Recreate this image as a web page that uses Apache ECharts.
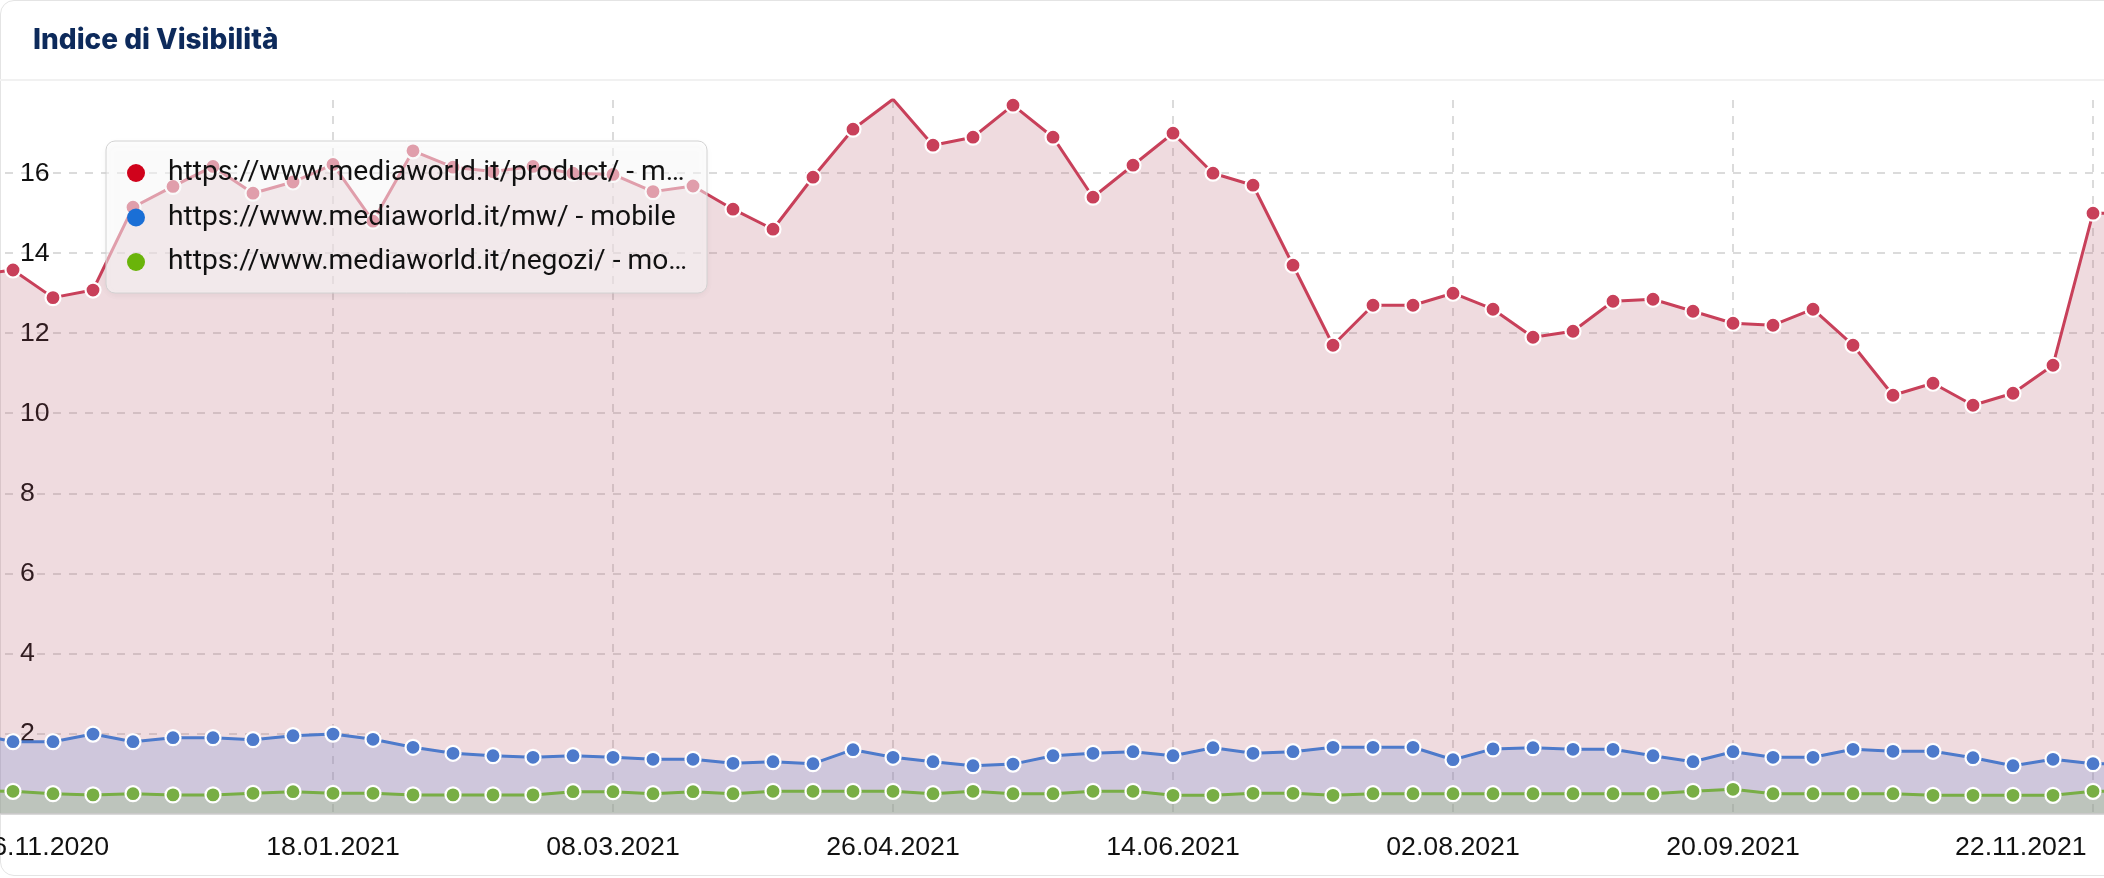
<!DOCTYPE html>
<html><head><meta charset="utf-8">
<script src="https://cdn.jsdelivr.net/npm/echarts@6/dist/echarts.min.js"></script>
<style>
html,body{margin:0;padding:0;background:#fff;width:2104px;height:878px;overflow:hidden;position:relative;}
#card{position:absolute;left:0;top:0;width:2200px;height:876px;border:1px solid #e4e4e4;border-radius:14px;box-sizing:border-box;}
#divider{position:absolute;left:0;top:79px;width:2200px;height:2px;background:#f1f1f1;}
#chart{position:absolute;left:-27px;top:0;width:2160px;height:878px;}
</style></head>
<body>
<div id="card"></div><div id="divider"></div>
<div id="chart"></div>
<script>
const categories = ['16.11.2020','23.11.2020','30.11.2020','07.12.2020','14.12.2020','21.12.2020','28.12.2020','04.01.2021','11.01.2021','18.01.2021','25.01.2021','01.02.2021','08.02.2021','15.02.2021','22.02.2021','01.03.2021','08.03.2021','15.03.2021','22.03.2021','29.03.2021','05.04.2021','12.04.2021','19.04.2021','26.04.2021','03.05.2021','10.05.2021','17.05.2021','24.05.2021','31.05.2021','07.06.2021','14.06.2021','21.06.2021','28.06.2021','05.07.2021','12.07.2021','19.07.2021','26.07.2021','02.08.2021','09.08.2021','16.08.2021','23.08.2021','30.08.2021','06.09.2021','13.09.2021','20.09.2021','27.09.2021','04.10.2021','11.10.2021','18.10.2021','25.10.2021','01.11.2021','08.11.2021','15.11.2021','22.11.2021','29.11.2021'];
const seriesNames = ['https://www.mediaworld.it/product/ - mobile','https://www.mediaworld.it/mw/ - mobile','https://www.mediaworld.it/negozi/ - mobile'];
const productValues = [13.45,13.58,12.89,13.08,15.15,15.67,16.17,15.5,15.78,16.22,14.8,16.56,16.15,16.04,16.17,16.0,15.97,15.54,15.68,15.1,14.6,15.9,17.1,17.85,16.7,16.9,17.7,16.9,15.4,16.2,17.0,16.0,15.7,13.7,11.7,12.7,12.7,13.0,12.6,11.9,12.05,12.8,12.85,12.55,12.25,12.2,12.6,11.7,10.45,10.75,10.2,10.5,11.2,15.0,15.0];
const mwValues = [2.0,1.79,1.79,1.98,1.79,1.89,1.89,1.84,1.94,1.98,1.85,1.65,1.50,1.44,1.40,1.44,1.40,1.35,1.35,1.25,1.29,1.24,1.59,1.40,1.29,1.19,1.23,1.44,1.50,1.54,1.44,1.64,1.50,1.54,1.65,1.65,1.65,1.34,1.61,1.64,1.60,1.60,1.44,1.29,1.54,1.40,1.40,1.60,1.55,1.55,1.39,1.19,1.35,1.24,1.24];
const negoziValues = [0.56,0.55,0.49,0.46,0.49,0.46,0.46,0.50,0.54,0.50,0.50,0.46,0.46,0.46,0.46,0.54,0.54,0.49,0.54,0.49,0.55,0.55,0.55,0.55,0.49,0.55,0.49,0.49,0.55,0.55,0.45,0.45,0.50,0.50,0.45,0.49,0.49,0.49,0.49,0.49,0.49,0.49,0.49,0.55,0.60,0.49,0.49,0.49,0.49,0.45,0.45,0.45,0.45,0.55,0.55];
const labelIndices = [0,9,16,23,30,37,44,53];

const lineColors = ['#c8405a','#4d7acb','#78ae45'];
const areaColors = ['rgba(175,75,95,0.2)','rgba(111,139,211,0.25)','rgba(150,189,117,0.3)'];
const legendColors = ['#d0021b','#1a6fd6','#6ab40a'];
const values = [productValues, mwValues, negoziValues];

const chart = echarts.init(document.getElementById('chart'));
const axisFont = 'Liberation Sans, Arial, sans-serif';
const gridStyle = {color:'rgba(0,0,0,0.14)', type:[8,8], width:2};
chart.setOption({
  animation:false,
  title:{text:'Indice di Visibilità', left:60, top:27, padding:0,
    textStyle:{fontFamily:'Inter', fontWeight:800, fontSize:28, color:'#0d2a5b'}},
  grid:{left:0, right:0, top:100, bottom:64.7},
  legend:{orient:'vertical', left:133, top:141, padding:[17,11,16,21], itemGap:14.5,
    itemWidth:18, itemHeight:18, icon:'circle', selectedMode:false,
    data: seriesNames.map((n,k)=>({name:n, itemStyle:{color:legendColors[k], borderWidth:0}})),
    textStyle:{fontFamily:'Roboto', fontSize:28.2, color:'#111', width:528, overflow:'truncate', ellipsis:'…', lineHeight:30, padding:[0,0,0,18]},
    backgroundColor:'rgba(255,255,255,0.5)', borderColor:'#d2d2d2', borderWidth:1, borderRadius:9,
    shadowBlur:6, shadowColor:'rgba(0,0,0,0.08)', shadowOffsetY:2},
  xAxis:{type:'category', data:categories, boundaryGap:false,
    axisLine:{show:true, lineStyle:{color:'#d9d9d9', width:2}},
    axisTick:{show:false},
    axisLabel:{interval:(i)=>labelIndices.includes(i), margin:21, fontSize:26.7, color:'#111', fontFamily:axisFont,
      formatter:(v,i)=> i===0 ? '{l|'+v+'}' : (i===53 ? '{r|'+v+'}' : v),
      rich:{l:{width:272, align:'right', fontSize:26.7, color:'#111', fontFamily:axisFont},
            r:{width:276, align:'left', fontSize:26.7, color:'#111', fontFamily:axisFont}}},
    splitLine:{show:true, interval:(i)=>labelIndices.includes(i), lineStyle:gridStyle}},
  yAxis:{type:'value', min:0, max:17.83, interval:2,
    axisLine:{show:false}, axisTick:{show:false},
    axisLabel:{inside:true, margin:47, fontSize:26.7, color:'#111', fontFamily:axisFont, showMinLabel:false, showMaxLabel:false},
    splitLine:{show:true, showMinLine:false, showMaxLine:false, lineStyle:gridStyle}},
  series: values.map((d,k)=>({
    name:seriesNames[k], type:'line', data:d, symbol:'circle', symbolSize:15, showAllSymbol:true,
    lineStyle:{color:lineColors[k], width:3},
    itemStyle:{color:lineColors[k], borderColor:'#fff', borderWidth:2.2},
    areaStyle:{color:areaColors[k], opacity:1},
    emphasis:{disabled:true}
  }))
});
</script>
</body></html>
